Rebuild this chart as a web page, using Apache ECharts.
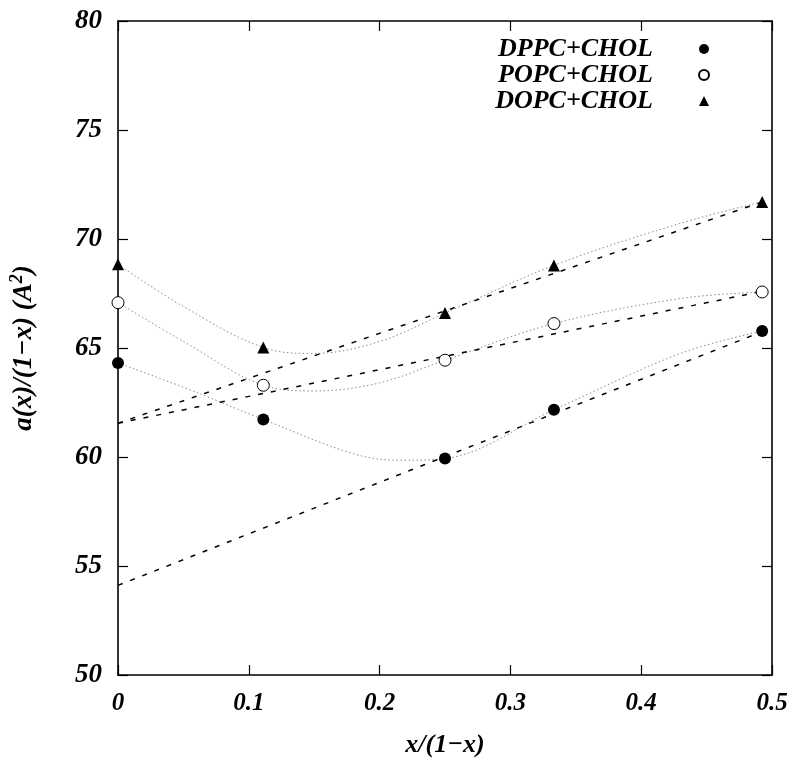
<!DOCTYPE html>
<html>
<head>
<meta charset="utf-8">
<script src="https://cdn.jsdelivr.net/npm/echarts@6/dist/echarts.min.js"></script>
<style>
html,body{margin:0;padding:0;background:#fff;}
#chart{width:800px;height:763px;}
</style>
</head>
<body>
<div id="chart"></div>
<script>
// ---- data ----
var xValues = [0, 0.1111, 0.25, 0.3333, 0.4925];
var dppc = [64.31, 61.72, 59.93, 62.17, 65.78];
var popc = [67.08, 63.29, 64.44, 66.12, 67.57];
var dopc = [68.84, 65.02, 66.6, 68.79, 71.7];

// linear fits (dashed), endpoints
var fitX = [0, 0.4925];
var dppcFit = [54.11, 65.75];
var popcFit = [61.55, 67.6];
var dopcFit = [61.55, 71.7];

// smooth guide curves (dotted)
var dppcCurveX = [0, 0.05, 0.1111, 0.18, 0.215, 0.25, 0.3333, 0.43, 0.4925];
var dppcCurveY = [64.31, 63.2, 61.72, 60.15, 59.85, 59.93, 62.17, 64.75, 65.78];
var popcCurveX = [0, 0.05, 0.1111, 0.15, 0.2, 0.25, 0.3333, 0.43, 0.4925];
var popcCurveY = [67.08, 65.3, 63.29, 63.03, 63.4, 64.44, 66.12, 67.27, 67.57];
var dopcCurveX = [0, 0.05, 0.1111, 0.15, 0.2, 0.25, 0.3333, 0.43, 0.4925];
var dopcCurveY = [68.84, 66.9, 65.02, 64.75, 65.3, 66.6, 68.79, 70.72, 71.7];

var xTicks = [0, 0.1, 0.2, 0.3, 0.4, 0.5];
var yTicks = [50, 55, 60, 65, 70, 75, 80];

var names = ['DPPC+CHOL', 'POPC+CHOL', 'DOPC+CHOL'];
// ---------------

function pairs(xs, ys) { return xs.map(function (x, i) { return [x, ys[i]]; }); }

var FONT = 'Liberation Serif';
var chart = echarts.init(document.getElementById('chart'), null, {renderer: 'canvas'});

function axisCommon() {
  return {
    axisLine: {show: true, onZero: false, lineStyle: {color: '#000', width: 1.6}},
    axisTick: {show: true, inside: true, length: 10, lineStyle: {color: '#000', width: 1.2}},
    splitLine: {show: false}
  };
}

function dashed(ys) {
  return {type: 'line', data: pairs(fitX, ys), symbol: 'none', silent: true, z: 2,
    lineStyle: {color: '#000', width: 1.5, type: [5, 8]}};
}
function dotted(xs, ys) {
  return {type: 'line', data: pairs(xs, ys), symbol: 'none', smooth: 0.35, silent: true, z: 1,
    lineStyle: {color: '#8a8a8a', width: 1, type: [1.5, 2.5]}};
}

var option = {
  backgroundColor: '#fff',
  animation: false,
  grid: {left: 116.5, right: 28, top: 21, bottom: 88},
  legend: {
    orient: 'vertical', right: 85, top: 31, align: 'right',
    itemGap: 0, itemWidth: 10, itemHeight: 10,
    data: names,
    formatter: function (n) { return '{t|' + n + '}'; },
    textStyle: {
      rich: {t: {fontFamily: FONT, fontStyle: 'italic', fontWeight: 'bold', fontSize: 26,
        color: '#000', padding: [0, 41, 0, 0], lineHeight: 26}}
    }
  },
  xAxis: [
    Object.assign(axisCommon(), {
      type: 'value', min: 0, max: 0.5, interval: 0.1, position: 'bottom',
      name: 'x/(1\u2212x)', nameLocation: 'middle', nameGap: 57,
      nameTextStyle: {fontFamily: FONT, fontStyle: 'italic', fontWeight: 'bold', fontSize: 26, color: '#000'},
      axisLabel: {margin: 16, fontFamily: FONT, fontStyle: 'italic', fontWeight: 'bold', fontSize: 25, color: '#000',
        formatter: function (v) { return xTicks.indexOf(+v.toFixed(1)) >= 0 ? String(+v.toFixed(1)) : ''; }}
    }),
    Object.assign(axisCommon(), {
      type: 'value', min: 0, max: 0.5, interval: 0.1, position: 'top',
      axisLabel: {show: false}
    })
  ],
  yAxis: [
    Object.assign(axisCommon(), {
      type: 'value', min: 50, max: 80, interval: 5, position: 'left',
      name: '{n|a(x)/(1\u2212x) (A}{s|2}{n|)}', nameLocation: 'middle', nameGap: 78, nameRotate: 90,
      nameTextStyle: {
        rich: {
          n: {fontFamily: FONT, fontStyle: 'italic', fontWeight: 'bold', fontSize: 27, color: '#000'},
          s: {fontFamily: FONT, fontStyle: 'italic', fontWeight: 'bold', fontSize: 18, color: '#000', verticalAlign: 'top', padding: [0, 0, 14, 0]}
        }
      },
      axisLabel: {margin: 16, fontFamily: FONT, fontStyle: 'italic', fontWeight: 'bold', fontSize: 27, color: '#000',
        formatter: function (v) { return yTicks.indexOf(v) >= 0 ? String(v) : ''; }}
    }),
    Object.assign(axisCommon(), {
      type: 'value', min: 50, max: 80, interval: 5, position: 'right',
      axisLabel: {show: false}
    })
  ],
  series: [
    dotted(dppcCurveX, dppcCurveY),
    dotted(popcCurveX, popcCurveY),
    dotted(dopcCurveX, dopcCurveY),
    dashed(dppcFit),
    dashed(popcFit),
    dashed(dopcFit),
    {name: names[0], type: 'scatter', data: pairs(xValues, dppc), symbol: 'circle', symbolSize: 12, z: 5,
      itemStyle: {color: '#000', opacity: 1}},
    {name: names[1], type: 'scatter', data: pairs(xValues, popc), symbol: 'circle', symbolSize: 12, z: 5,
      itemStyle: {color: '#fff', borderColor: '#000', borderWidth: 1, opacity: 1}},
    {name: names[2], type: 'scatter', data: pairs(xValues, dopc), symbol: 'triangle', symbolSize: 12, z: 5,
      itemStyle: {color: '#000', opacity: 1}}
  ]
};
chart.setOption(option);
</script>
</body>
</html>
